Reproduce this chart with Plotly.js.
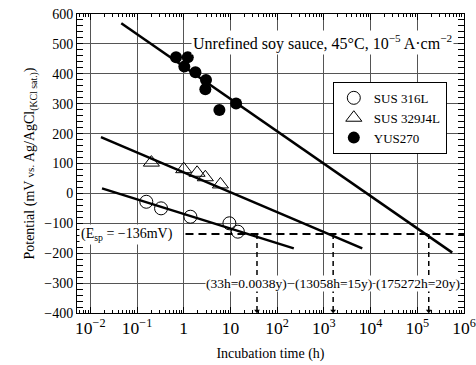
<!DOCTYPE html>
<html>
<head>
<meta charset="utf-8">
<script src="https://cdn.plot.ly/plotly-3.0.1.min.js"></script>
<style>html,body{margin:0;padding:0;background:#fff;}#chart{width:476px;height:365px;}
#chart text{font-family:"Liberation Serif","Times New Roman",serif !important;}</style>
</head>
<body>
<div id="chart"></div>
<script>
// ---- data ----
const seriesNames = ["SUS 316L", "SUS 329J4L", "YUS270"];

const sus316Time = [0.158, 0.327, 1.39, 9.5, 14.4];
const sus316Pot  = [-28, -50, -78, -100, -128];

const sus329Time = [0.203, 1.0, 1.93, 2.9, 6.1];
const sus329Pot  = [103, 81, 69, 54, 30];

const yusTime = [0.685, 1.22, 1.03, 1.78, 3.0, 2.9, 13.2, 5.8];
const yusPot  = [455, 455, 424, 405, 379, 348, 301, 279];

// fitted lines (end points)
const fit316Time = [0.0178, 227];
const fit316Pot  = [17, -184];
const fit329Time = [0.0169, 6640];
const fit329Pot  = [188, -184];
const fitYusTime = [0.046, 560000];
const fitYusPot  = [569, -198];

// pitting potential and crossing times
const esp = -136;
const espStart = 1.09;
const espEnd = 1e6;
const crossTimes = [37, 1580, 176000];
const crossLabels = ["(33h=0.0038y)", "(13058h=15y)", "(175272h=20y)"];
const yMin = -400;

// minor tick positions on the log axis (2..9 x each decade)
const decades = [-3, -2, -1, 0, 1, 2, 3, 4, 5];
const minorTickVals = [];
decades.forEach(d => { for (let m = 2; m <= 9; m++) minorTickVals.push(m * Math.pow(10, d)); });

const font = "Liberation Serif, serif";

// build vertical dashed arrows
const vx = [], vy = [];
crossTimes.forEach(t => { vx.push(t, t, null); vy.push(esp, yMin + 8, null); });

const traces = [
  {x: sus316Time, y: sus316Pot, name: seriesNames[0], mode: "markers", type: "scatter",
   marker: {symbol: "circle-open", size: 13, color: "#000", line: {width: 1, color: "#000"}}},
  {x: sus329Time, y: sus329Pot, name: seriesNames[1], mode: "markers", type: "scatter",
   marker: {symbol: "triangle-up-open", size: 14, color: "#000", line: {width: 1, color: "#000"}}},
  {x: yusTime, y: yusPot, name: seriesNames[2], mode: "markers", type: "scatter",
   marker: {symbol: "circle", size: 12, color: "#000"}},
  {x: fit316Time, y: fit316Pot, mode: "lines", showlegend: false, line: {color: "#000", width: 2.5}, hoverinfo: "skip"},
  {x: fit329Time, y: fit329Pot, mode: "lines", showlegend: false, line: {color: "#000", width: 2.5}, hoverinfo: "skip"},
  {x: fitYusTime, y: fitYusPot, mode: "lines", showlegend: false, line: {color: "#000", width: 2.5}, hoverinfo: "skip"},
  {x: [espStart, espEnd], y: [esp, esp], mode: "lines", showlegend: false,
   line: {color: "#000", width: 2, dash: "8px,5px"}, hoverinfo: "skip"},
  {x: vx, y: vy, mode: "lines", showlegend: false, connectgaps: false,
   line: {color: "#000", width: 1.5, dash: "5px,4px"}, hoverinfo: "skip"},
  {x: crossTimes, y: crossTimes.map(() => yMin + 7), mode: "markers", showlegend: false,
   marker: {symbol: "triangle-down", size: 5, color: "#000"}, hoverinfo: "skip"}
];

const labelPaperX = [0.4385, 0.662, 0.881];
const annotations = [
  {xref: "paper", yref: "paper", x: 0.975, y: 0.906, xanchor: "right", yanchor: "middle",
   text: "Unrefined soy sauce, 45°C, 10<sup>−5</sup> A·cm<sup>−2</sup>", showarrow: false,
   bgcolor: "#fff", font: {family: font, size: 16, color: "#000"}},
  {xref: "paper", yref: "y", x: 0.006, y: esp, xanchor: "left", yanchor: "middle",
   text: "(E<sub>sp</sub> = −136mV)", showarrow: false, bgcolor: "#fff",
   font: {family: font, size: 14, color: "#000"}}
];
crossLabels.forEach((t, i) => annotations.push({
  xref: "paper", yref: "y", x: labelPaperX[i], y: -300, xanchor: "center", yanchor: "middle",
  text: t, showarrow: false, bgcolor: "#fff", borderpad: 0,
  font: {family: font, size: 13.5, color: "#000"}
}));

const axisCommon = {
  showline: true, linecolor: "#000", linewidth: 1, mirror: "allticks",
  ticks: "inside", ticklen: 6, tickcolor: "#000", zeroline: false,
  showgrid: true, gridcolor: "#555", gridwidth: 1,
  tickfont: {family: font, size: 14, color: "#000"}
};

const layout = {
  width: 476, height: 365,
  margin: {l: 77, r: 12, t: 14, b: 52},
  paper_bgcolor: "#fff", plot_bgcolor: "#fff",
  font: {family: font, size: 14, color: "#000"},
  showlegend: true,
  legend: {x: 0.661, y: 0.773, xanchor: "left", yanchor: "top", bgcolor: "#fff",
    bordercolor: "#000", borderwidth: 1, font: {family: font, size: 13, color: "#000"},
    tracegroupgap: 0, itemwidth: 30},
  xaxis: Object.assign({}, axisCommon, {type: "log", range: [-2.285, 6.0], dtick: 1, exponentformat: "power",
    title: {text: "Incubation time (h)", font: {family: font, size: 14}, standoff: 10}}),
  xaxis2: {type: "log", range: [-2.285, 6.0], overlaying: "x", side: "bottom", anchor: "y",
    tickmode: "array", tickvals: minorTickVals, showticklabels: false, showgrid: false,
    zeroline: false, showline: false, mirror: "allticks", ticks: "inside", ticklen: 3, tickcolor: "#000"},
  yaxis: Object.assign({}, axisCommon, {range: [-400, 600], dtick: 100,
    minor: {ticks: "inside", ticklen: 3, dtick: 20, tickcolor: "#000", showgrid: false},
    title: {text: "Potential (mV <span style=\"font-size:11px\">vs.</span> Ag/AgCl<sub>(KCl sat.)</sub>)", font: {family: font, size: 14}, standoff: 6}}),
  annotations: annotations
};

// invisible trace to activate the minor-tick axis
traces.push({x: [1], y: [0], xaxis: "x2", mode: "markers", showlegend: false,
  marker: {opacity: 0}, hoverinfo: "skip"});

Plotly.newPlot("chart", traces, layout, {displayModeBar: false, staticPlot: true});
</script>
</body>
</html>
